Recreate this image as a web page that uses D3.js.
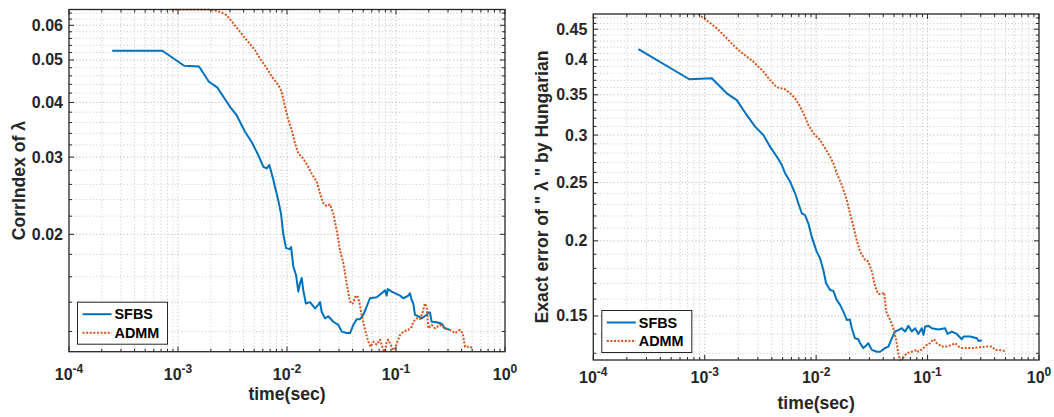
<!DOCTYPE html>
<html>
<head>
<meta charset="utf-8">
<script src="https://cdn.jsdelivr.net/npm/d3@7"></script>
<style>
  html, body { margin: 0; padding: 0; background: #fff; }
  svg { display: block; font-family: "Liberation Sans", Arial, Helvetica, sans-serif; font-weight: bold; }
</style>
</head>
<body>
<svg id="chart" width="1054" height="417"></svg>
<script>
// ---- Series data: time (sec) and measured error per method ----

// Left panel: CorrIndex of lambda
const sfbsCorrTime = [2.49e-4, 7.18e-4, 1.14e-3, 1.56e-3, 1.92e-3, 2.29e-3, 3.0e-3, 3.45e-3, 4.12e-3, 4.74e-3,
  5.46e-3, 6.07e-3, 6.52e-3, 6.89e-3, 7.5e-3, 8.32e-3, 8.81e-3, 9.25e-3, 9.8e-3, 0.0105,
  0.0109, 0.01143, 0.0121, 0.0127, 0.01316, 0.01364, 0.0141, 0.0149, 0.01625, 0.0181,
  0.01937, 0.0201, 0.0208, 0.0223, 0.0239, 0.0266, 0.0296, 0.0318, 0.0353, 0.0379,
  0.0406, 0.0436, 0.0468, 0.0501, 0.0538, 0.0577, 0.0665, 0.0739, 0.0793, 0.0821,
  0.084, 0.0912, 0.1089, 0.1167, 0.1297, 0.1343, 0.1393, 0.144, 0.1494, 0.1603,
  0.1718, 0.1913, 0.198, 0.205, 0.2124, 0.236, 0.262, 0.2818, 0.302, 0.3086];
const sfbsCorrVal = [0.0525, 0.0525, 0.0485, 0.0483, 0.0446, 0.0433, 0.0391, 0.0374, 0.0343, 0.0325,
  0.0303, 0.0285, 0.0283, 0.0288, 0.0266, 0.0239, 0.0223, 0.0200, 0.0186, 0.0185,
  0.0187, 0.01687, 0.01615, 0.0148, 0.01546, 0.0159, 0.0149, 0.0139, 0.0140, 0.01355,
  0.0138, 0.0140, 0.01331, 0.01286, 0.0130, 0.01263, 0.01242, 0.01199, 0.0119, 0.0119,
  0.01242, 0.0128, 0.0128, 0.01309, 0.01367, 0.01429, 0.01437, 0.01467, 0.0149, 0.01449,
  0.0150, 0.0148, 0.01449, 0.01429, 0.01449, 0.01467, 0.01416, 0.0139, 0.0131, 0.0130,
  0.01286, 0.0131, 0.01326, 0.01326, 0.01263, 0.0126, 0.0125, 0.0122, 0.01214, 0.0121];

const admmCorrTime = [8.75e-4, 1.2e-3, 1.97e-3, 2.43e-3, 2.8e-3, 3.22e-3, 3.7e-3, 4.27e-3, 5.08e-3, 5.65e-3,
  6.52e-3, 7.24e-3, 8.32e-3, 8.93e-3, 9.6e-3, 0.01028, 0.01104, 0.01184, 0.0127, 0.0141,
  0.0157, 0.01685, 0.01875, 0.0201, 0.0215, 0.0231, 0.0248, 0.0266, 0.0286, 0.0306,
  0.0329, 0.0353, 0.0373, 0.0385, 0.0402, 0.0421, 0.0442, 0.0461, 0.0484, 0.052,
  0.0557, 0.0586, 0.062, 0.0665, 0.0713, 0.0765, 0.0793, 0.0823, 0.0851, 0.0894,
  0.0945, 0.098, 0.1028, 0.1089, 0.1167, 0.1297, 0.1393, 0.144, 0.155, 0.166,
  0.1756, 0.1843, 0.1913, 0.198, 0.2124, 0.228, 0.2535, 0.2818, 0.3126, 0.3475,
  0.386, 0.409, 0.4295, 0.4775, 0.512];
const admmCorrVal = [0.0652, 0.0652, 0.0652, 0.0644, 0.0633, 0.0606, 0.0580, 0.0555, 0.0527, 0.0504,
  0.0479, 0.0458, 0.0439, 0.0423, 0.0391, 0.0365, 0.0346, 0.0323, 0.0306, 0.0298,
  0.0285, 0.0275, 0.02636, 0.0248, 0.02355, 0.0232, 0.0234, 0.0223, 0.0204, 0.0184,
  0.01718, 0.01546, 0.01429, 0.0139, 0.0139, 0.01437, 0.01449, 0.0140, 0.0131, 0.0121,
  0.01137, 0.01107, 0.01137, 0.0112, 0.0115, 0.01088, 0.01079, 0.01137, 0.0115, 0.0112,
  0.01088, 0.01096, 0.01137, 0.01178, 0.01199, 0.0121, 0.0123, 0.01263, 0.01286, 0.0128,
  0.01326, 0.0139, 0.01367, 0.0122, 0.01242, 0.0122, 0.01242, 0.0122, 0.0121, 0.0119,
  0.0121, 0.0119, 0.01107, 0.01107, 0.01096];

// Right panel: exact error of lambda by Hungarian
const sfbsExactTime = [2.54e-4, 7.27e-4, 1.156e-3, 1.576e-3, 1.94e-3, 2.38e-3, 2.83e-3, 3.36e-3, 3.85e-3, 4.43e-3,
  4.91e-3, 5.26e-3, 5.83e-3, 6.47e-3, 6.92e-3, 7.43e-3, 7.94e-3, 8.51e-3, 9.12e-3, 0.0101,
  0.01084, 0.0116, 0.01228, 0.01334, 0.01426, 0.0153, 0.0164, 0.01754, 0.01884, 0.0201,
  0.0209, 0.0223, 0.0239, 0.0248, 0.0265, 0.0284, 0.0294, 0.0316, 0.035, 0.0375,
  0.0415, 0.0445, 0.0478, 0.051, 0.0547, 0.0586, 0.0628, 0.0673, 0.0721, 0.0773,
  0.0826, 0.0887, 0.092, 0.0951, 0.1023, 0.1092, 0.125, 0.1435, 0.151, 0.1648,
  0.1828, 0.2028, 0.2103, 0.241, 0.2767, 0.287, 0.307];
const sfbsExactVal = [0.4169, 0.3715, 0.373, 0.352, 0.343, 0.324, 0.3098, 0.300, 0.287, 0.2763,
  0.2676, 0.2592, 0.251, 0.240, 0.231, 0.2223, 0.2208, 0.2139, 0.2033, 0.1919,
  0.1871, 0.1789, 0.170, 0.1657, 0.1651, 0.1595, 0.1565, 0.1525, 0.1477, 0.148,
  0.1431, 0.1377, 0.1372, 0.1351, 0.1326, 0.1342, 0.1351, 0.1317, 0.1308, 0.1308,
  0.1326, 0.1334, 0.1377, 0.1413, 0.1421, 0.1431, 0.1413, 0.1444, 0.1413, 0.1431,
  0.140, 0.1431, 0.1395, 0.1441, 0.1444, 0.1431, 0.1424, 0.1431, 0.140, 0.1413,
  0.140, 0.1372, 0.1386, 0.1386, 0.1377, 0.1363, 0.1367];

const admmExactTime = [8.77e-4, 1.282e-3, 1.687e-3, 2.0e-3, 2.73e-3, 3.36e-3, 3.85e-3, 4.43e-3, 5.26e-3, 5.83e-3,
  6.47e-3, 7.18e-3, 7.94e-3, 8.51e-3, 9.44e-3, 0.01084, 0.01202, 0.01334, 0.01426, 0.0153,
  0.01698, 0.01884, 0.0201, 0.0216, 0.0231, 0.0248, 0.0275, 0.0294, 0.0316, 0.0338,
  0.0361, 0.0387, 0.0408, 0.0425, 0.0462, 0.0493, 0.0521, 0.0547, 0.0566, 0.0607,
  0.065, 0.0721, 0.080, 0.0826, 0.0917, 0.098, 0.1052, 0.1092, 0.1143, 0.121,
  0.134, 0.1486, 0.163, 0.1766, 0.1906, 0.2028, 0.2249, 0.2576, 0.2958, 0.3396,
  0.3767, 0.4036, 0.4358, 0.479, 0.50];
const admmExactVal = [0.477, 0.4518, 0.429, 0.4157, 0.3974, 0.3825, 0.3705, 0.3602, 0.3576, 0.352,
  0.3454, 0.3345, 0.322, 0.3118, 0.302, 0.2943, 0.2851, 0.2762, 0.2693, 0.2592,
  0.2478, 0.2339, 0.2223, 0.2113, 0.2007, 0.1919, 0.1858, 0.1848, 0.1778, 0.1679,
  0.1632, 0.1632, 0.1641, 0.1525, 0.1477, 0.1431, 0.1372, 0.130, 0.1267, 0.128,
  0.130, 0.1308, 0.1317, 0.1308, 0.1326, 0.1342, 0.1351, 0.1363, 0.1372, 0.1351,
  0.1334, 0.1334, 0.1342, 0.1351, 0.1334, 0.1326, 0.1326, 0.1326, 0.1331, 0.1334,
  0.1334, 0.1317, 0.1317, 0.1313, 0.1313];

// ---- Axis ticks ----
const xTickExponents = [-4, -3, -2, -1, 0];
const yTicksCorr = [0.02, 0.03, 0.04, 0.05, 0.06];
const yTicksExact = [0.15, 0.2, 0.25, 0.3, 0.35, 0.4, 0.45];
const seriesNames = ["SFBS", "ADMM"];
const seriesColors = ["#0072BD", "#D95319"];

const svg = d3.select("#chart");

function drawPanel(cfg) {
  const { box, yLabel, yTicks, yMinorStep, series } = cfg;
  const g = svg.append("g");

  const x = d3.scaleLog().domain([1e-4, 1]).range([box.left, box.right]);
  const allVals = series.flatMap(s => s.val);
  const y = d3.scaleLog().domain(d3.extent(allVals)).range([box.bottom, box.top]);
  const [yMin, yMax] = y.domain();

  // minor tick positions
  const xMinor = [];
  for (let e = -4; e < 0; e++) for (let k = 2; k <= 9; k++) xMinor.push(k * Math.pow(10, e));
  const yMinor = d3.range(Math.ceil(yMin / yMinorStep), Math.floor(yMax / yMinorStep) + 1)
    .map(i => +(i * yMinorStep).toFixed(6))
    .filter(v => !yTicks.some(t => Math.abs(t - v) < 1e-9));
  const xMajor = xTickExponents.map(e => Math.pow(10, e));

  // grid
  const grid = g.append("g");
  grid.selectAll(".gxm").data(xMinor).join("line")
    .attr("x1", d => x(d)).attr("x2", d => x(d))
    .attr("y1", box.top).attr("y2", box.bottom)
    .attr("stroke", "#cfcfcf").attr("stroke-width", 1).attr("stroke-dasharray", "1.2,2.2");
  grid.selectAll(".gym").data(yMinor).join("line")
    .attr("x1", box.left).attr("x2", box.right)
    .attr("y1", d => y(d)).attr("y2", d => y(d))
    .attr("stroke", "#cfcfcf").attr("stroke-width", 1).attr("stroke-dasharray", "1.2,2.2");
  grid.selectAll(".gxM").data(xMajor.slice(1, -1)).join("line")
    .attr("x1", d => x(d)).attr("x2", d => x(d))
    .attr("y1", box.top).attr("y2", box.bottom)
    .attr("stroke", "#bdbdbd").attr("stroke-width", 1).attr("stroke-dasharray", "1.2,2.2");
  grid.selectAll(".gyM").data(yTicks).join("line")
    .attr("x1", box.left).attr("x2", box.right)
    .attr("y1", d => y(d)).attr("y2", d => y(d))
    .attr("stroke", "#bdbdbd").attr("stroke-width", 1).attr("stroke-dasharray", "1.2,2.2");

  // series lines
  const clipId = "clip" + cfg.id;
  g.append("clipPath").attr("id", clipId).append("rect")
    .attr("x", box.left).attr("y", box.top - 1)
    .attr("width", box.right - box.left).attr("height", box.bottom - box.top + 2);
  const line = d3.line().x(d => x(d[0])).y(d => y(d[1]));
  series.forEach((s, i) => {
    const pts = s.time.map((t, j) => [t, s.val[j]]);
    g.append("path").datum(pts)
      .attr("clip-path", `url(#${clipId})`)
      .attr("fill", "none")
      .attr("stroke", seriesColors[i])
      .attr("stroke-width", i === 0 ? 2 : 2)
      .attr("stroke-dasharray", i === 0 ? null : "2,1.6")
      .attr("stroke-linejoin", "round")
      .attr("d", line);
  });

  // tick marks (inward, all four sides)
  const ticks = g.append("g").attr("stroke", "#262626").attr("stroke-width", 1);
  const tickSets = [
    { vals: xMajor, len: 5, horiz: true }, { vals: xMinor, len: 3, horiz: true },
    { vals: yTicks, len: 5, horiz: false }, { vals: yMinor, len: 3, horiz: false }
  ];
  tickSets.forEach(ts => {
    ts.vals.forEach(v => {
      if (ts.horiz) {
        const px = x(v);
        ticks.append("line").attr("x1", px).attr("x2", px).attr("y1", box.bottom).attr("y2", box.bottom - ts.len);
        ticks.append("line").attr("x1", px).attr("x2", px).attr("y1", box.top).attr("y2", box.top + ts.len);
      } else {
        const py = y(v);
        ticks.append("line").attr("y1", py).attr("y2", py).attr("x1", box.left).attr("x2", box.left + ts.len);
        ticks.append("line").attr("y1", py).attr("y2", py).attr("x1", box.right).attr("x2", box.right - ts.len);
      }
    });
  });

  // axes box
  g.append("rect")
    .attr("x", box.left).attr("y", box.top)
    .attr("width", box.right - box.left).attr("height", box.bottom - box.top)
    .attr("fill", "none").attr("stroke", "#262626").attr("stroke-width", 1.3);

  // y tick labels
  const fmt = d3.format("~g");
  g.selectAll(".ylab").data(yTicks).join("text")
    .attr("x", box.left - 6).attr("y", d => y(d))
    .attr("text-anchor", "end").attr("dominant-baseline", "central")
    .attr("font-size", 16).attr("fill", "#262626")
    .text(d => fmt(d));

  // x tick labels with exponents
  xTickExponents.forEach(e => {
    const t = g.append("text")
      .attr("x", x(Math.pow(10, e))).attr("y", cfg.xTickBaseline)
      .attr("text-anchor", "middle").attr("font-size", 16).attr("fill", "#262626");
    t.append("tspan").text("10");
    t.append("tspan").attr("dy", -7).attr("font-size", 12).text(String(e));
  });

  // axis titles
  g.append("text")
    .attr("x", (box.left + box.right) / 2).attr("y", cfg.xLabelBaseline)
    .attr("text-anchor", "middle").attr("font-size", 17.6).attr("fill", "#262626")
    .text("time(sec)");
  g.append("text")
    .attr("transform", `translate(${cfg.yLabelX},${(box.top + box.bottom) / 2}) rotate(-90)`)
    .attr("text-anchor", "middle").attr("font-size", 17.6).attr("fill", "#262626")
    .text(yLabel);

  // legend
  const lg = g.append("g").attr("transform", `translate(${box.left + 8.5},${box.bottom - 7.5 - 42})`);
  lg.append("rect").attr("width", 90).attr("height", 42)
    .attr("fill", "#fff").attr("stroke", "#262626").attr("stroke-width", 1);
  seriesNames.forEach((name, i) => {
    const yy = 12 + i * 18.5;
    lg.append("line").attr("x1", 5).attr("x2", 34).attr("y1", yy).attr("y2", yy)
      .attr("stroke", seriesColors[i]).attr("stroke-width", 2)
      .attr("stroke-dasharray", i === 0 ? null : "2,1.6");
    lg.append("text").attr("x", 37).attr("y", yy).attr("dominant-baseline", "central")
      .attr("font-size", 14.4).attr("fill", "#000").text(name);
  });
}

drawPanel({
  id: "L",
  box: { left: 69, right: 505, top: 9.5, bottom: 351.7 },
  yLabel: "CorrIndex of λ",
  yTicks: yTicksCorr,
  yMinorStep: 0.002,
  xTickBaseline: 380,
  xLabelBaseline: 400,
  yLabelX: 25,
  series: [
    { time: sfbsCorrTime, val: sfbsCorrVal },
    { time: admmCorrTime, val: admmCorrVal }
  ]
});

drawPanel({
  id: "R",
  box: { left: 593.3, right: 1039, top: 14, bottom: 360 },
  yLabel: "Exact error of \" λ \" by Hungarian",
  yTicks: yTicksExact,
  yMinorStep: 0.01,
  xTickBaseline: 383,
  xLabelBaseline: 409,
  yLabelX: 548,
  series: [
    { time: sfbsExactTime, val: sfbsExactVal },
    { time: admmExactTime, val: admmExactVal }
  ]
});
</script>
</body>
</html>
